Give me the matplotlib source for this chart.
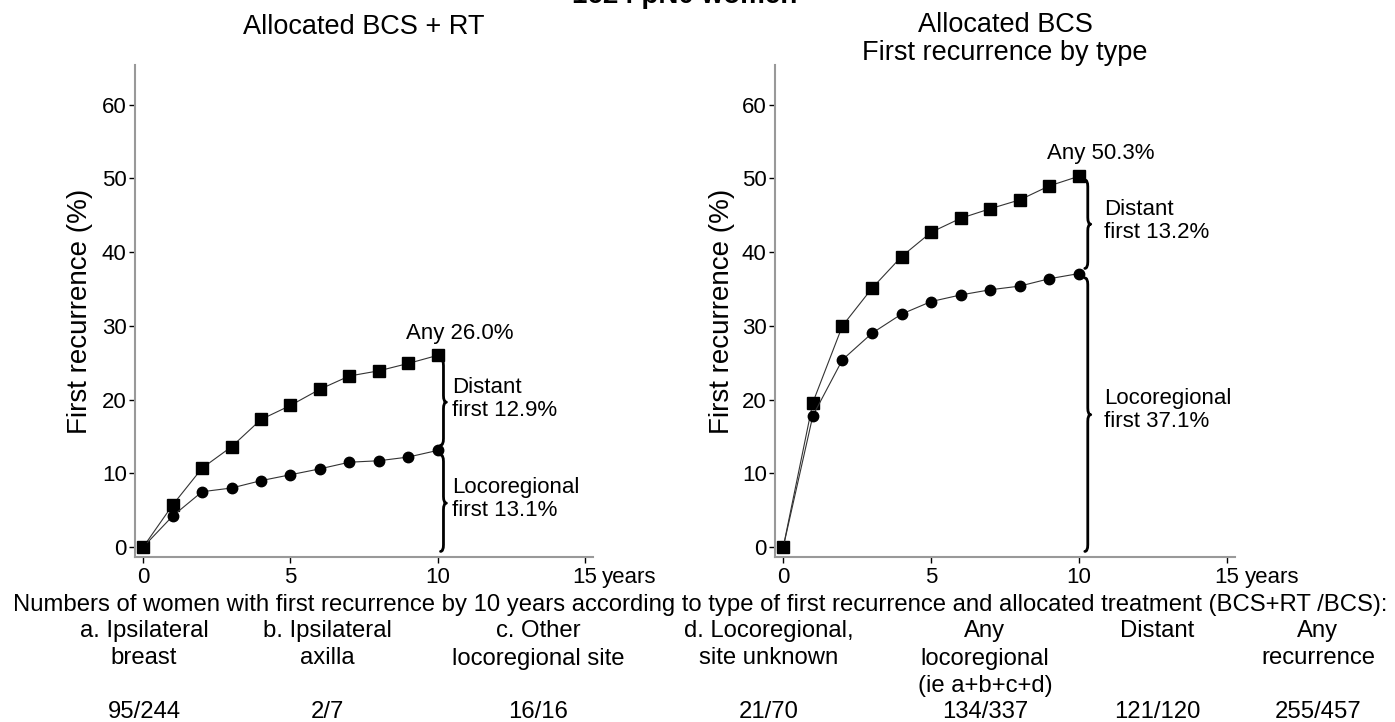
import matplotlib
matplotlib.use('Agg')
import numpy as np
from matplotlib import pyplot as plt
from matplotlib.path import Path
from matplotlib.patches import PathPatch

plt.rcParams['font.family'] = ['Liberation Sans', 'DejaVu Sans']

years = list(range(11))
rt_any = [0, 5.7, 10.7, 13.6, 17.3, 19.2, 21.4, 23.2, 23.9, 24.9, 26.0]
rt_loco = [0, 4.2, 7.5, 8.0, 9.0, 9.8, 10.6, 11.5, 11.7, 12.2, 13.1]
bcs_any = [0, 19.6, 30.0, 35.1, 39.4, 42.7, 44.6, 45.9, 47.1, 49.0, 50.3]
bcs_loco = [0, 17.8, 25.4, 29.0, 31.6, 33.3, 34.2, 34.9, 35.4, 36.4, 37.1]

rt_labels = ['Any 26.0%', 'Distant\nfirst 12.9%', 'Locoregional\nfirst 13.1%']
bcs_labels = ['Any 50.3%', 'Distant\nfirst 13.2%', 'Locoregional\nfirst 37.1%']

col_heads = ['a. Ipsilateral\nbreast', 'b. Ipsilateral\naxilla', 'c. Other\nlocoregional site',
             'd. Locoregional,\nsite unknown', 'Any\nlocoregional\n(ie a+b+c+d)', 'Distant',
             'Any\nrecurrence']
col_counts = ['95/244', '2/7', '16/16', '21/70', '134/337', '121/120', '255/457']
col_x = [144, 327, 538, 769, 985, 1157, 1318]

W, H = 1395, 722
fig = plt.figure(figsize=(W / 100, H / 100), dpi=100)
FS = 16
BFS = 17.2


def brace(ax, x, y_top, y_bot, w=0.1, h=0.9):
    mid = (y_top + y_bot) / 2
    verts = [(x - w, y_top), (x, y_top), (x, y_top - h),
             (x, mid + h),
             (x, mid), (x + w, mid),
             (x, mid), (x, mid - h),
             (x, y_bot + h),
             (x, y_bot), (x - w, y_bot)]
    codes = [Path.MOVETO, Path.CURVE3, Path.CURVE3, Path.LINETO,
             Path.CURVE3, Path.CURVE3, Path.CURVE3, Path.CURVE3,
             Path.LINETO, Path.CURVE3, Path.CURVE3]
    ax.add_patch(PathPatch(Path(verts, codes), fill=False, lw=2.0, color='black',
                           capstyle='round', joinstyle='round'))


def draw_panel(ax, any_vals, loco_vals, labels, bx, tx):
    ax.plot(years, any_vals, color='#333333', lw=0.8, marker='s', ms=9,
            mfc='black', mec='black', zorder=3)
    ax.plot(years, loco_vals, color='#333333', lw=0.8, marker='o', ms=7.5,
            mfc='black', mec='black', zorder=3)
    top, mid = any_vals[-1], loco_vals[-1]
    brace(ax, bx, top - 0.5, mid + 0.7)
    brace(ax, bx, mid - 0.6, -0.6)
    ax.text(10.75, top + 1.6, labels[0], ha='center', va='bottom', fontsize=FS)
    ax.text(tx, (top + mid) / 2 + 0.5, labels[1], ha='left', va='center',
            fontsize=FS, linespacing=1.1)
    ax.text(tx, mid / 2, labels[2], ha='left', va='center',
            fontsize=FS, linespacing=1.1)

    ax.set_xlim(-0.28, 15.28)
    ax.set_ylim(-1.36, 65.4)
    ax.set_xticks([0, 5, 10, 15])
    ax.set_yticks([0, 10, 20, 30, 40, 50, 60])
    ax.tick_params(length=4, width=1, color='black', labelsize=FS, pad=2)
    ax.tick_params(axis='x', pad=3.5)
    ax.text(15.6, -20 / 492, 'years', transform=ax.get_xaxis_transform(),
            ha='left', va='center', fontsize=FS)
    for s in ['top', 'right']:
        ax.spines[s].set_visible(False)
    for s in ['left', 'bottom']:
        ax.spines[s].set_color('#999999')
        ax.spines[s].set_linewidth(1.5)


ax1 = fig.add_axes([135 / W, 1 - 557 / H, 458 / W, 492 / H])
ax2 = fig.add_axes([775 / W, 1 - 557 / H, 460 / W, 492 / H])
draw_panel(ax1, rt_any, rt_loco, rt_labels, 10.2, 10.5)
draw_panel(ax2, bcs_any, bcs_loco, bcs_labels, 10.3, 10.85)

fig.text(685 / W, 1 - 3 / H, '1624 pN0 women', ha='center', va='baseline',
         fontsize=20, fontweight='bold')
fig.text(364 / W, 1 - 27 / H, 'Allocated BCS + RT', ha='center', va='center', fontsize=19.5)
fig.text(1005 / W, 1 - 39 / H, 'Allocated BCS\nFirst recurrence by type', ha='center',
         va='center', fontsize=19.5, linespacing=1.05)
for xc in [80, 722]:
    fig.text(xc / W, 1 - 311 / H, 'First recurrence (%)', rotation=90, ha='center',
             va='center', fontsize=20)

fig.text(700 / W, 1 - 605 / H,
         'Numbers of women with first recurrence by 10 years according to type of first '
         'recurrence and allocated treatment (BCS+RT /BCS):',
         ha='center', va='center', fontsize=BFS)
for head, cx in zip(col_heads, col_x):
    for i, line in enumerate(head.split('\n')):
        fig.text(cx / W, 1 - (631 + 27.5 * i) / H, line, ha='center', va='center',
                 fontsize=BFS)
for cnt, cx in zip(col_counts, col_x):
    fig.text(cx / W, 1 - 712 / H, cnt, ha='center', va='center', fontsize=BFS)

fig.savefig('out.png', dpi=100)
